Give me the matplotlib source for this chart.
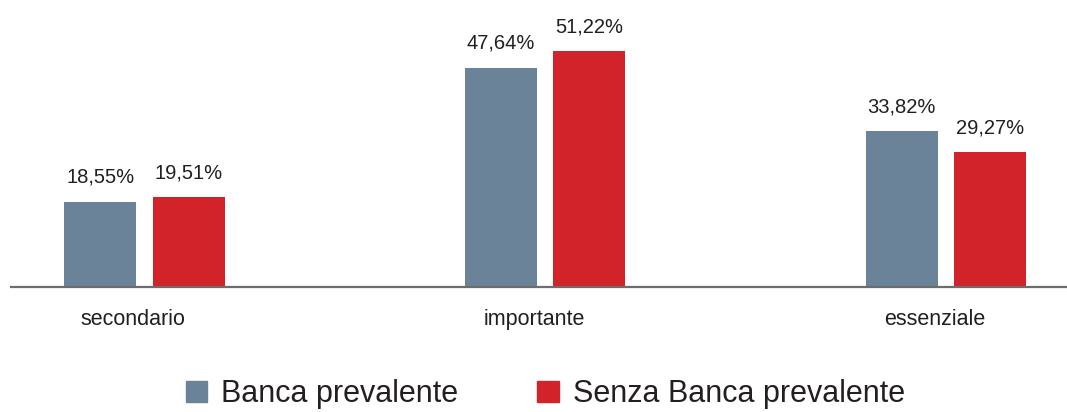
import matplotlib.pyplot as plt
import matplotlib.patches as mpatches
import numpy as np

categories = ['secondario', 'importante', 'essenziale']
banca_prevalente = [18.55, 47.64, 33.82]
senza_banca = [19.51, 51.22, 29.27]
series_names = ['Banca prevalente', 'Senza Banca prevalente']

blue = '#6a8399'
red = '#d2232b'
text_col = '#231f20'

plt.rcParams['font.family'] = ['Liberation Sans', 'DejaVu Sans']

fig = plt.figure(figsize=(10.67, 4.12), dpi=100)
ax = fig.add_axes([0.0103, 0.3034, 0.9897, 0.6966])

x = np.arange(len(categories))
w = 0.18
off = 0.11
b1 = ax.bar(x - off, banca_prevalente, w, color=blue)
b2 = ax.bar(x + off, senza_banca, w, color=red)

# percentage labels above the bars, Italian decimal comma
for bars, vals in ((b1, banca_prevalente), (b2, senza_banca)):
    for rect, v in zip(bars, vals):
        ax.annotate(f'{v:.2f}%'.replace('.', ','),
                    (rect.get_x() + rect.get_width() / 2, v),
                    xytext=(0, 15), textcoords='offset pixels',
                    ha='center', va='bottom', fontsize=14.5, color=text_col)

for xi, name in zip(x, categories):
    ax.annotate(name, (xi - 0.028, 0), xytext=(0, -33),
                textcoords='offset pixels', ha='center', va='center',
                fontsize=15.5, color=text_col)

ax.set_xlim(-0.3333, 2.303)
ax.set_ylim(0, 62.4)
for s in ('top', 'right', 'left'):
    ax.spines[s].set_visible(False)
ax.spines['bottom'].set_color('#6d6d6d')
ax.spines['bottom'].set_linewidth(1.6)
ax.set_xticks([])
ax.set_yticks([])
ax.patch.set_visible(False)

handles = [mpatches.Patch(color=blue), mpatches.Patch(color=red)]
fig.legend(handles, series_names, loc='lower center', ncol=2,
           bbox_to_anchor=(0.511, -0.06), frameon=False,
           prop={'size': 22},
           handlelength=0.7, handleheight=0.7, handletextpad=0.45,
           columnspacing=2.6, labelcolor=text_col)

fig.savefig('out.png', dpi=100)
